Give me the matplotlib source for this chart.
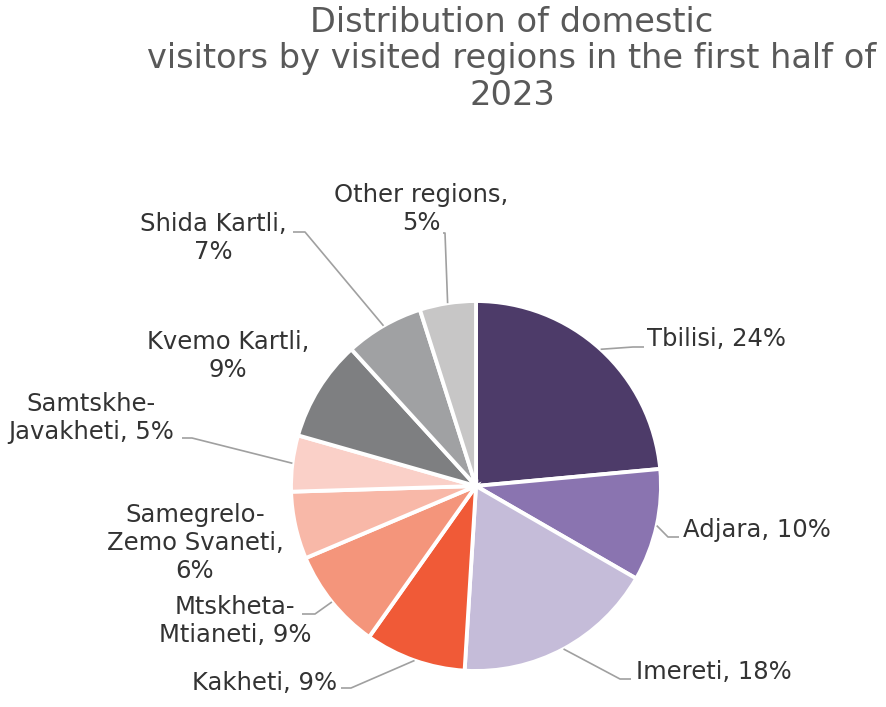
import matplotlib
matplotlib.use("Agg")
import matplotlib.pyplot as plt
import numpy as np

regions = ["Tbilisi", "Adjara", "Imereti", "Kakheti", "Mtskheta-\nMtianeti",
           "Samegrelo-\nZemo Svaneti", "Samtskhe-\nJavakheti", "Kvemo Kartli",
           "Shida Kartli", "Other regions"]
shares = [24, 10, 18, 9, 9, 6, 5, 9, 7, 5]
colors = ["#4d3b69", "#8a74b0", "#c5bcd9", "#f05a37", "#f4957b",
          "#f8b8a8", "#fad0c8", "#7e7f81", "#a0a1a3", "#c7c6c6"]

label_text = ["Tbilisi, 24%", "Adjara, 10%", "Imereti, 18%", "Kakheti, 9%",
              "Mtskheta-\nMtianeti, 9%", "Samegrelo-\nZemo Svaneti,\n6%",
              "Samtskhe-\nJavakheti, 5%", "Kvemo Kartli,\n9%",
              "Shida Kartli,\n7%", "Other regions,\n5%"]

# pie centre / radius in pixels
CX, CY, R = 476, 486, 185
W, H = 886, 707


def px(x, y):
    return (x - CX) / R, (CY - y) / R


# label layout (pixels): text anchor, ha, leader end at text, elbow (None = no leader)
layout = [
    ((647, 339), "left", (644, 347), (633, 347)),
    ((683, 530), "left", (679, 537), (668, 537)),
    ((636, 672), "left", (631, 679), (620, 679)),
    ((337, 683), "right", (341, 688), (351, 688)),
    ((235, 621), "center", (302, 614), (315, 614)),
    ((195, 543), "center", None, None),
    ((91, 418), "center", (182, 438), (192, 438)),
    ((228, 356), "center", None, None),
    ((213, 238), "center", (293, 232), (305, 232)),
    ((421, 209), "center", (443, 233), (445, 233)),
]

fig = plt.figure(figsize=(W / 100, H / 100), dpi=100)
ax = fig.add_axes([0, 0, 1, 1])

wedges, _ = ax.pie(shares, colors=colors, startangle=90, counterclock=False,
                   radius=1.0, wedgeprops=dict(edgecolor="white", linewidth=2.8))

ax.set_xlim(-CX / R, (W - CX) / R)
ax.set_ylim((CY - H) / R, CY / R)
ax.set_aspect("auto")
ax.axis("off")

for w, txt, (tpos, ha, lend, elbow) in zip(wedges, label_text, layout):
    mid = np.deg2rad((w.theta1 + w.theta2) / 2)
    anchor = (np.cos(mid), np.sin(mid))
    tx, ty = px(*tpos)
    ax.text(tx, ty, txt, ha=ha, va="center", fontsize=17.5, color="#333333",
            multialignment="center")
    if lend is not None:
        ex, ey = px(*elbow)
        lx, ly = px(*lend)
        ax.plot([anchor[0], ex, lx], [anchor[1], ey, ly], color="#a0a0a0",
                lw=1.2, solid_capstyle="butt")

fig.text(512 / W, 1 - 6 / H,
         "Distribution of domestic\nvisitors by visited regions in the first half of\n2023",
         ha="center", va="top", fontsize=24.2, color="#595959", linespacing=1.13)

fig.savefig("out.png", dpi=100)
